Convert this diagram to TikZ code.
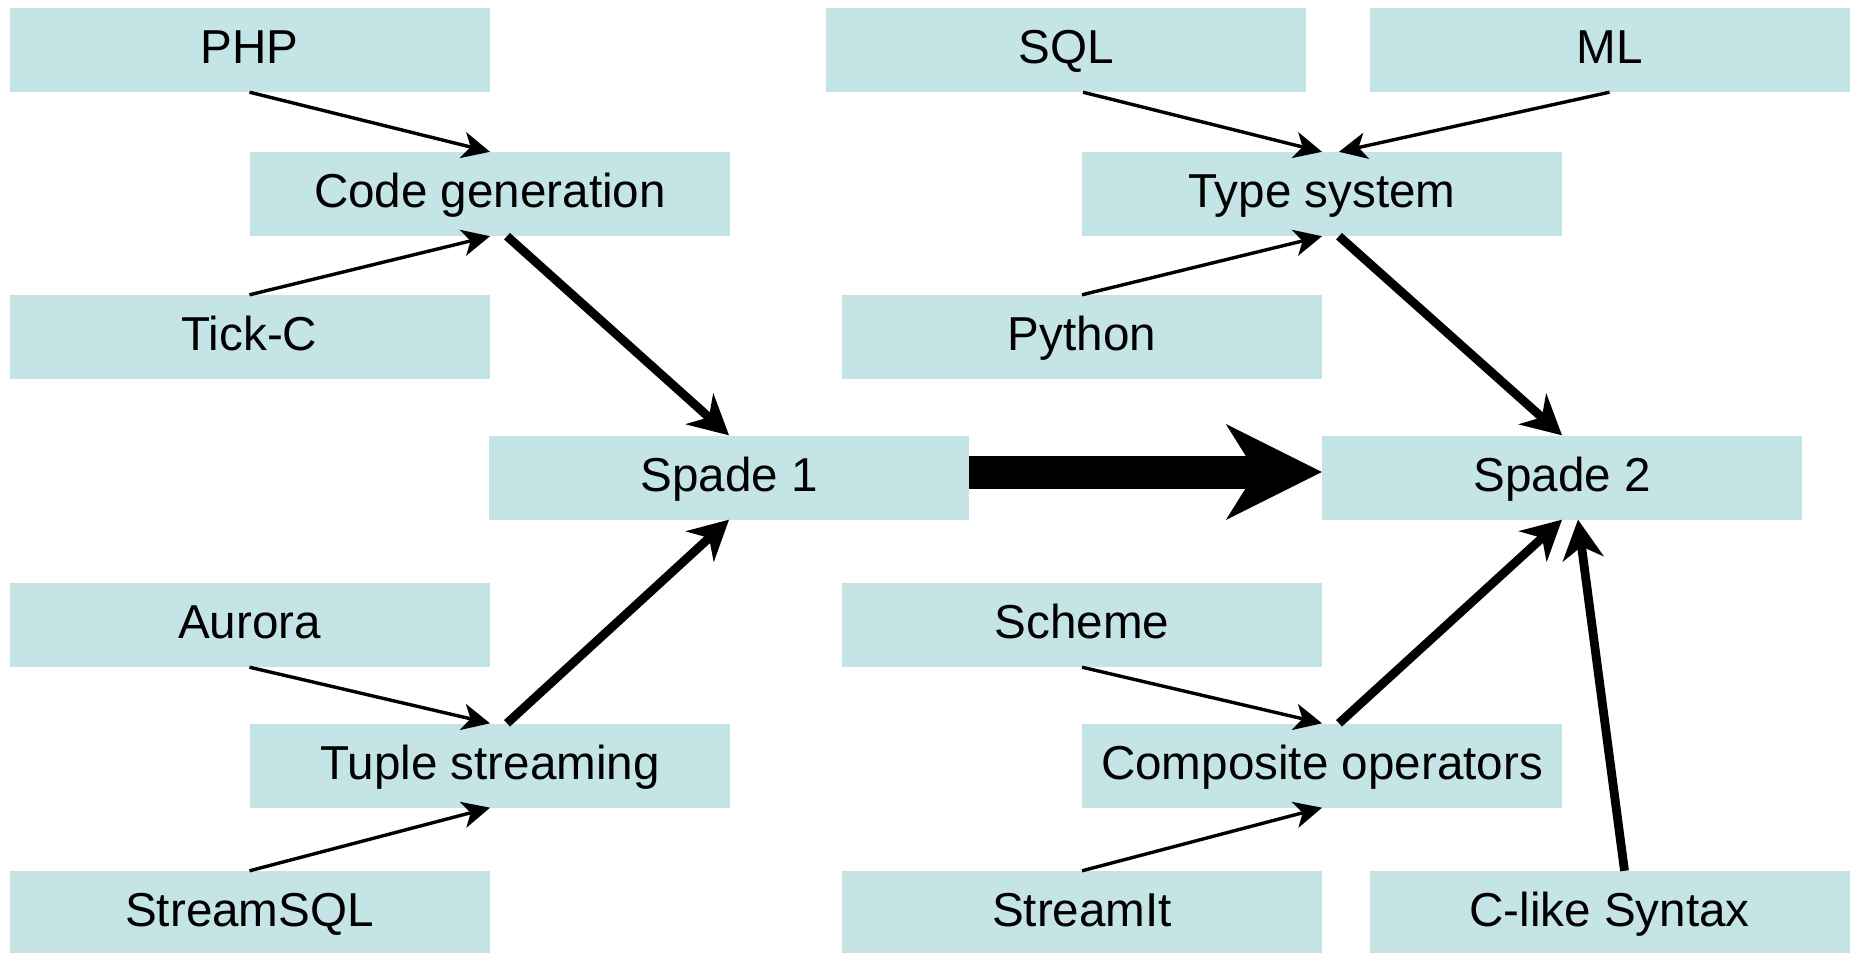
\documentclass[tikz,border=0pt]{standalone}
\usepackage{fontspec}
\setmainfont{Liberation Sans}
\usetikzlibrary{arrows.meta,calc}
\definecolor{boxc}{RGB}{196,228,230}
\tikzset{
  box/.style={fill=boxc, minimum width=480pt, minimum height=84pt, inner sep=0pt,
    text height=34pt, text depth=6.4pt, font=\fontsize{47.6pt}{56pt}\selectfont},
  thinarrow/.style={line width=3.4pt, -{Stealth[length=28pt,width=27pt,inset=8pt,line width=0pt]}},
  thickarrow/.style={line width=8.8pt, -{Stealth[length=40pt,width=42pt,inset=13pt,line width=0pt]}},
  bigarrow/.style={line width=33pt, -{Stealth[length=96pt,width=96pt,inset=30pt,line width=0pt]}}
}
\begin{document}
\begin{tikzpicture}[x=1pt,y=-1pt]
\useasboundingbox (0,0) rectangle (1856,953);
% left half
\node[box] (php)    at (249.5,50)   {PHP};
\node[box] (cg)     at (490,194)    {Code generation};
\node[box] (tick)   at (249.5,337)  {Tick-C};
\node[box] (s1)     at (729,477.5)  {Spade 1};
\node[box] (aurora) at (249.5,625)  {Aurora};
\node[box] (tuple)  at (490,765.5)  {Tuple streaming};
\node[box] (ssql)   at (249.5,913)  {StreamSQL};
% right half
\node[box] (sql)    at (1066,50)    {SQL};
\node[box] (ml)     at (1609.5,50)  {ML};
\node[box] (ts)     at (1322,194)   {Type system};
\node[box] (py)     at (1082,337)   {Python};
\node[box] (s2)     at (1562,477.5) {Spade 2};
\node[box] (scheme) at (1082,625)   {Scheme};
\node[box] (comp)   at (1322,765.5) {Composite operators};
\node[box] (sit)    at (1082,913)   {StreamIt};
\node[box] (clike)  at (1609.5,913) {C-like Syntax};
% connectors
\draw[thinarrow] (php.south) -- (cg.north);
\draw[thinarrow] (tick.north) -- (cg.south);
\draw[thickarrow] ($(cg.south)+(17,0)$) -- (s1.north);
\draw[thinarrow] (aurora.south) -- (tuple.north);
\draw[thinarrow] (ssql.north) -- (tuple.south);
\draw[thickarrow] ($(tuple.north)+(17,0)$) -- (s1.south);
\draw[thinarrow] ($(sql.south)+(17,0)$) -- (ts.north);
\draw[thinarrow] (ml.south) -- ($(ts.north)+(17,0)$);
\draw[thinarrow] (py.north) -- (ts.south);
\draw[thickarrow] ($(ts.south)+(17,0)$) -- (s2.north);
\draw[thinarrow] (scheme.south) -- (comp.north);
\draw[thinarrow] (sit.north) -- (comp.south);
\draw[thickarrow] ($(comp.north)+(17,0)$) -- (s2.south);
\draw[thickarrow] ($(clike.north)+(15,0)$) -- ($(s2.south)+(16,0)$);
\draw[bigarrow] ($(s1.east)+(0,-5.5)$) -- ($(s2.west)+(0,-5.5)$);
\end{tikzpicture}
\end{document}
